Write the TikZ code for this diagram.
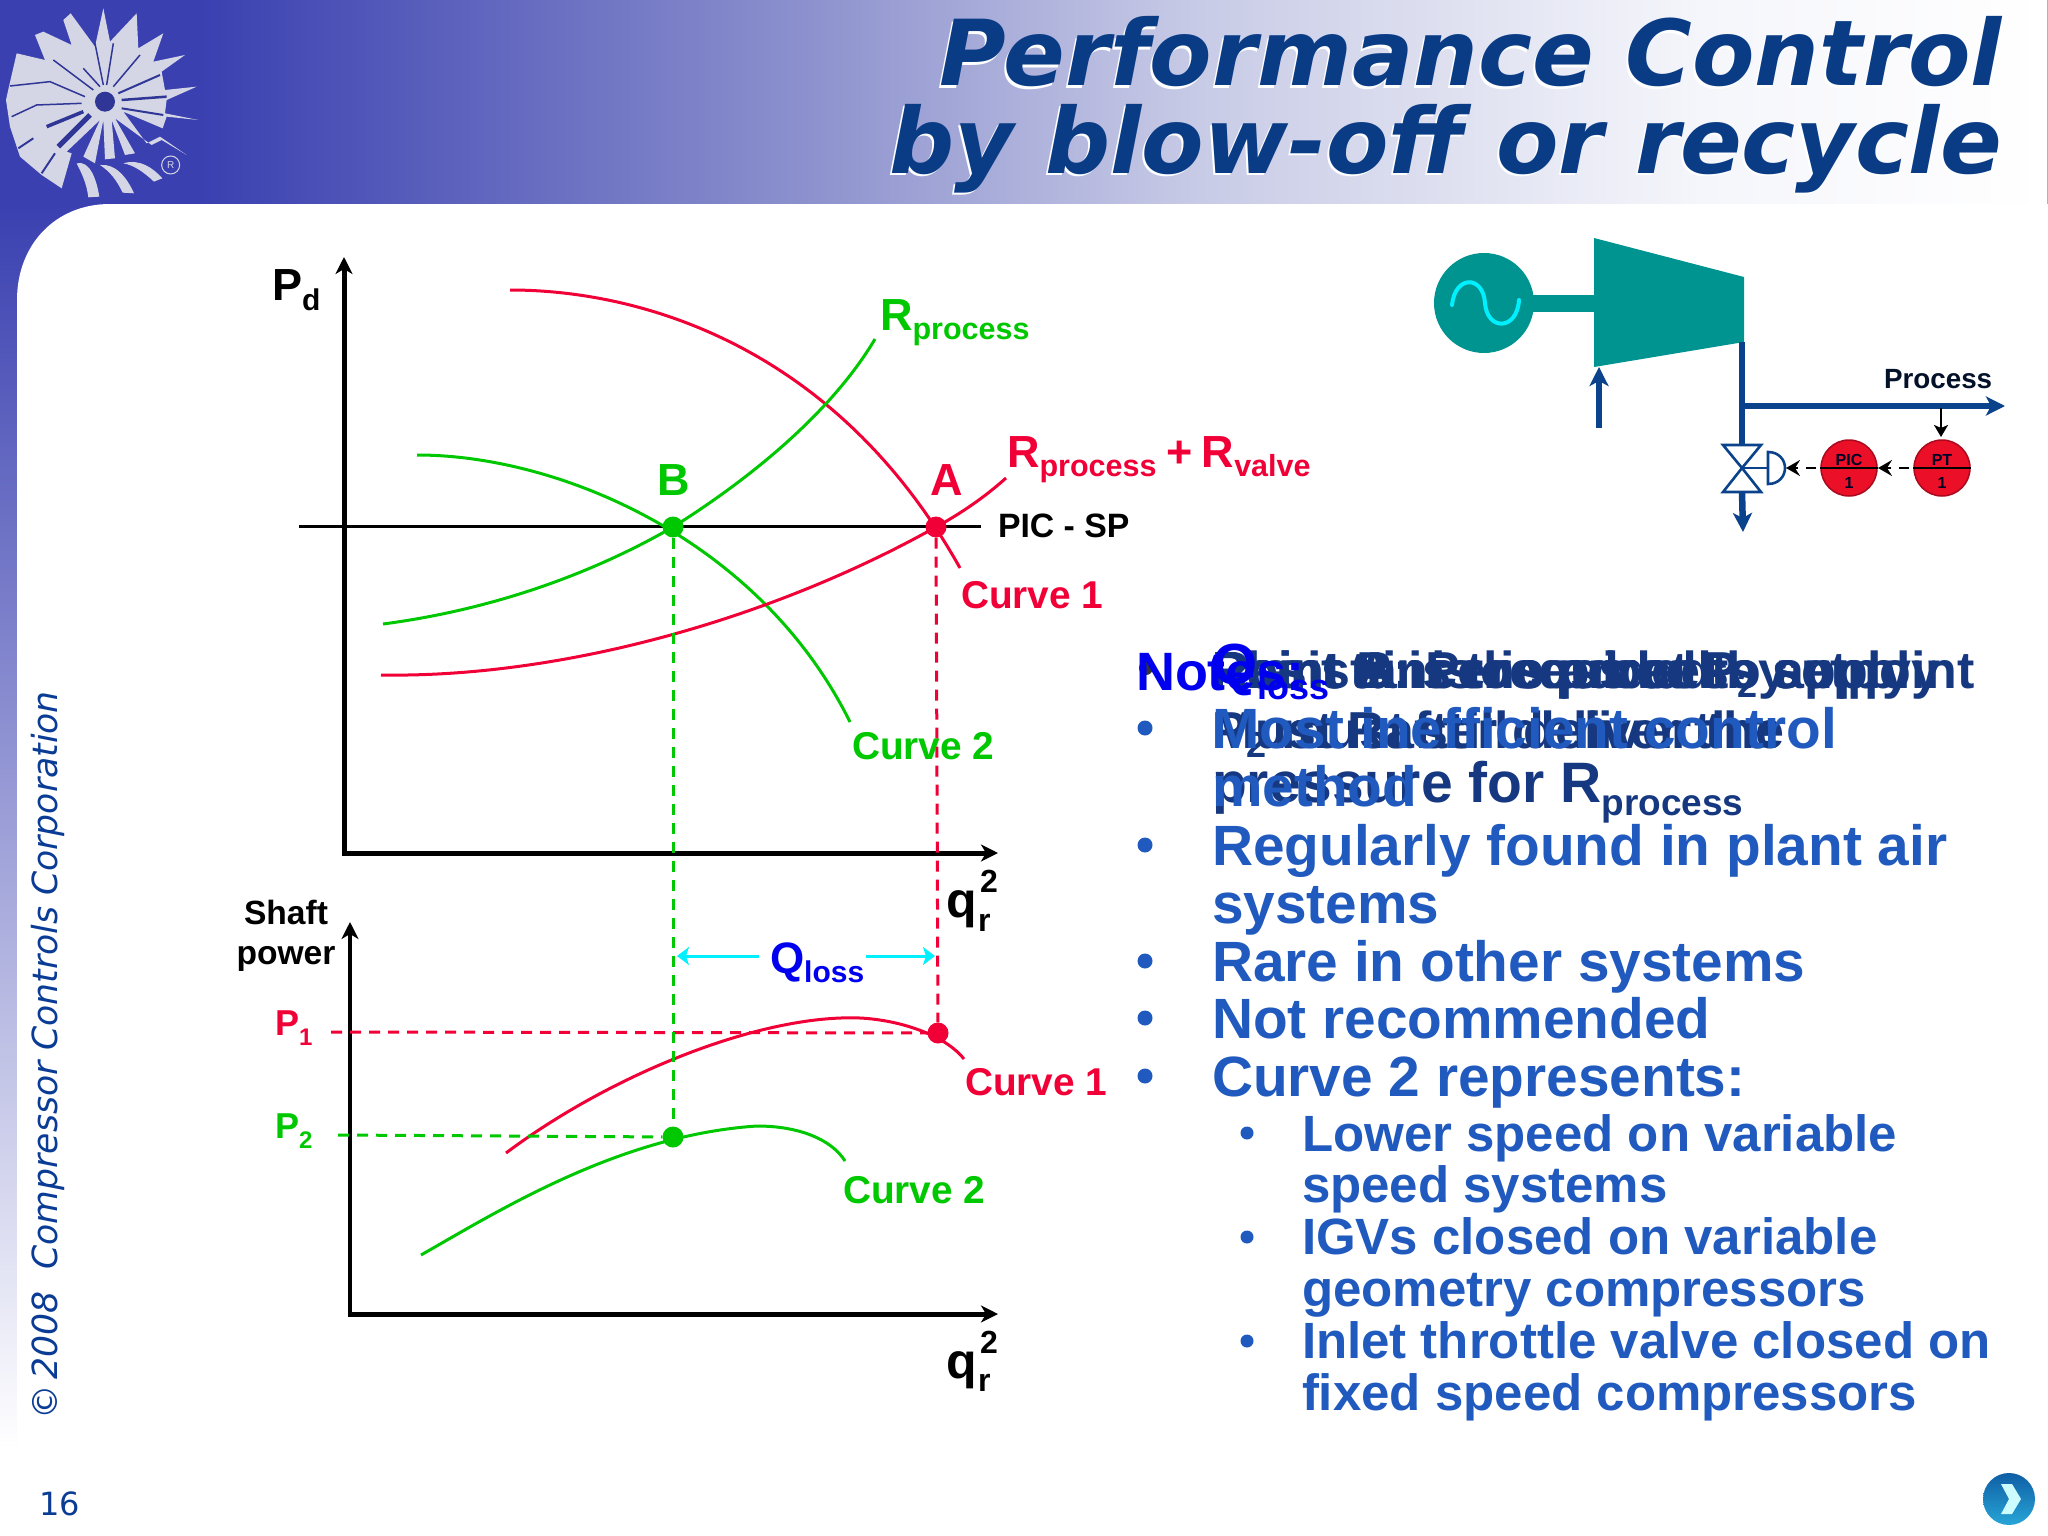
\documentclass[tikz,border=0pt]{standalone}
\usepackage{fontspec}
\setmainfont{Liberation Sans}
\newfontfamily\vdf{DejaVu Sans}
\usetikzlibrary{arrows.meta}
\newcommand\fs[1]{\fontsize{#1}{#1}\selectfont}
\newcommand\sbx[2]{\raisebox{-#1pt}{#2}}
\definecolor{hdrA}{RGB}{58,64,176}
\definecolor{hdrB}{RGB}{138,143,205}
\definecolor{hdrC}{RGB}{200,203,230}
\definecolor{hdrD}{RGB}{245,246,251}
\definecolor{navyT}{RGB}{10,60,134}
\definecolor{copyB}{RGB}{10,60,150}
\definecolor{rd}{RGB}{240,0,55}
\definecolor{gn}{RGB}{0,200,0}
\definecolor{tealC}{RGB}{0,148,144}
\definecolor{pipeC}{RGB}{10,66,140}
\definecolor{txtB}{RGB}{33,90,190}
\definecolor{txtD}{RGB}{21,56,128}
\definecolor{noteB}{RGB}{0,0,238}
\definecolor{logoL}{RGB}{212,214,230}
\definecolor{logoD}{RGB}{48,54,150}
\definecolor{cyanB}{RGB}{0,240,255}
\definecolor{instR}{RGB}{235,15,40}
\definecolor{instD}{RGB}{170,10,30}
\definecolor{btnA}{RGB}{40,165,215}
\definecolor{btnB}{RGB}{15,95,165}
\tikzset{
  lbl/.style={inner sep=0pt,outer sep=0pt,anchor=base west,font=\bfseries},
  body/.style={lbl,text=txtB,font=\bfseries\fs{56.8}},
  subbody/.style={lbl,text=txtB,font=\bfseries\fs{51}},
  dark/.style={lbl,text=txtD,font=\bfseries\fs{52}},
  axis/.style={line width=5pt,-{Stealth[length=17pt,width=17pt,inset=5pt]}},
  thincurve/.style={line width=3pt},
  redline/.style={thincurve,draw=rd},
  greenline/.style={thincurve,draw=gn},
  dashr/.style={draw=rd,line width=3pt,dash pattern=on 11pt off 8pt},
  dashg/.style={draw=gn,line width=3pt,dash pattern=on 11pt off 8pt},
  dot/.style={circle,inner sep=0pt,minimum size=21pt},
  pipe/.style={draw=pipeC,line width=6.5pt},
  pipetip/.style={-{Stealth[length=19pt,width=19pt,inset=5pt]}},
  bul/.style={circle,fill=txtB,inner sep=0pt,minimum size=15pt},
  sbul/.style={circle,fill=txtB,inner sep=0pt,minimum size=13pt},
  inst/.style={circle,fill=instR,draw=instD,line width=1.5pt,inner sep=0pt,minimum size=56pt},
  insttxt/.style={inner sep=0pt,anchor=base,font=\bfseries\fs{16},text=black!85!blue},
  ctrl/.style={draw=black,line width=2.5pt,dash pattern=on 10pt off 8pt,-{Stealth[length=14pt,width=16pt,inset=5pt]}},
  cyanar/.style={draw=cyanB,line width=3pt,-{Stealth[length=12pt,width=18pt,inset=3pt]}},
  titleT/.style={inner sep=0pt,anchor=base east,font=\vdf\bfseries\itshape\fs{91}}
}
\begin{document}
\begin{tikzpicture}[x=1pt,y=-1pt]
\useasboundingbox (0,0) rectangle (2048,1536);
\fill[white] (0,0) rectangle (2048,1536);
% header band
\fill[hdrA] (0,0) rectangle (200,204);
\shade[left color=hdrA,right color=hdrB] (200,0) rectangle (790,204);
\shade[left color=hdrB,right color=hdrC] (790,0) rectangle (1200,204);
\shade[left color=hdrC,right color=hdrD] (1200,0) rectangle (1700,204);
\shade[left color=hdrD,right color=white] (1700,0) rectangle (2048,204);
\shade[top color=hdrA,bottom color=white] (0,204) rectangle (120,1450);
\fill[white] (110,204) -- (2048,204) -- (2048,1536) -- (17,1536) -- (17,300) .. controls (17,245) and (55,204) .. (110,204) -- cycle;
\draw[black!30,line width=1pt] (2047,0) -- (2047,204);
% logo
\begin{scope}[x=0.3333pt,y=-0.3333pt]
\fill[logoL] (18,300)--(28,255)--(50,160)--(135,180)--(105,105)--(130,95)--(215,135)--(190,60)--(212,40)--(285,140)--(310,25)--(330,125)--(410,40)--(415,145)--(490,100)--(460,185)--(555,165)--(485,215)--(495,270)--(590,260)--(500,300)--(495,340)--(595,360)--(500,350)--(488,385)--(370,335)--(440,430)--(480,410)--(560,465)--(485,420)--(455,435)--(345,355)--(405,460)--(375,465)--(335,360)--(345,475)--(315,478)--(310,360)--(285,490)--(250,470)--(300,360)--(200,455)--(215,460)--(185,565)--(125,525)--(60,470)--(30,380)--cycle;
\fill[logoL] (230,490) .. controls (270,480) and (290,540) .. (298,590) -- (265,592) .. controls (260,550) and (245,520) .. (230,490) -- cycle;
\fill[logoL] (300,495) .. controls (345,490) and (380,530) .. (402,580) -- (368,578) .. controls (350,540) and (330,515) .. (300,495) -- cycle;
\fill[logoL] (370,490) .. controls (420,475) and (460,505) .. (487,535) -- (462,545) .. controls (430,515) and (400,495) .. (370,490) -- cycle;
\draw[logoD,line width=1.5pt] (30,258) -- (150,245) -- (255,290);
\draw[logoD,line width=1.5pt] (35,350) -- (110,315) -- (245,310);
\draw[logoD,line width=3.5pt] (140,380) -- (250,335);
\draw[logoD,line width=5pt] (175,440) -- (270,345);
\draw[logoD,line width=2pt] (55,445) -- (100,415);
\draw[logoD,line width=2pt] (125,520) -- (165,460);
\draw[logoD,line width=1.5pt] (160,180) -- (280,270);
\draw[logoD,line width=1.5pt] (250,205) -- (300,260);
\draw[logoD,line width=1.5pt] (285,130) -- (310,255);
\draw[logoD,line width=1.5pt] (340,130) -- (320,255);
\draw[logoD,line width=1.5pt] (420,165) -- (340,260);
\draw[logoD,line width=2pt] (480,225) -- (355,280);
\draw[logoD,line width=2.5pt] (500,290) -- (365,300);
\draw[logoD,line width=2pt] (490,345) -- (365,325);
\fill[logoL] (315,305) circle [radius=45];
\fill[logoD] (315,305) circle [radius=30];
\draw[logoL,line width=1pt] (512,495) circle [radius=27];
\node[inner sep=0pt,text=logoL,font=\fs{10}] (logoR) at (512,495) {R};
\end{scope}
% title
\node[titleT,text=white] (tshadA) at (2000,88.5) {Performance Control};
\node[titleT,text=white] (tshadB) at (2000,175.5) {by blow-of{}f or recycle};
\node[titleT,text=navyT] (t1) at (2002,86) {Performance Control};
\node[titleT,text=navyT] (t2) at (2002,173) {by blow-of{}f or recycle};
% side text
\node[inner sep=0pt,rotate=90,anchor=base west,text=copyB,font=\vdf\itshape\fs{34.6}] (copyr) at (57,1420) {©\,2008\ \ Compressor Controls Corporation};
\node[lbl,text=copyB,font=\vdf\fs{32}] (pg) at (39,1515) {16};
% next button
\shade[top color=btnB,bottom color=btnA] (2009,1499) circle [radius=26];
\fill[white!80!cyanB] (2001,1484) -- (2012,1484) -- (2021,1499) -- (2012,1514) -- (2001,1514) -- (2009,1499) -- cycle;
% === upper plot ===
\coordinate (o1) at (344,853);
\coordinate (y1) at (344,257);
\coordinate (x1) at (998,853);
\draw[axis] (o1) ++(0,2.5) -- (y1);
\draw[axis] (o1) ++(-2.5,0) -- (x1);
\coordinate (spL) at (299,526);
\coordinate (spR) at (981,526);
\draw[black,line width=3pt] (spL) -- (spR);
\draw[redline] (510,290) .. controls (640,290) and (835,345) .. (960,568);
\draw[greenline] (417,455) .. controls (560,455) and (760,540) .. (850,722);
\draw[greenline] (383,624) .. controls (490,610) and (590,575) .. (673,527) .. controls (745,482) and (830,415) .. (875,339);
\draw[redline] (381,675) .. controls (560,678) and (770,620) .. (936,527) .. controls (960,514) and (985,497) .. (1006,478);
\node[dot,fill=gn] (B) at (673,527) {};
\node[dot,fill=rd] (A) at (936,527) {};
% === lower plot ===
\coordinate (o2) at (350,1314);
\coordinate (y2) at (350,922);
\coordinate (x2) at (998,1314);
\draw[axis,line width=3.8pt] (o2) ++(0,2.5) -- (y2);
\draw[axis] (o2) ++(-1.9,0) -- (x2);
\draw[redline] (506,1153) .. controls (610,1075) and (760,1014) .. (860,1018) .. controls (900,1020) and (945,1035) .. (964,1059);
\draw[greenline] (421,1255) .. controls (500,1210) and (620,1135) .. (757,1126) .. controls (800,1126) and (832,1140) .. (845,1161);
\node[dot,fill=rd] (P1d) at (938,1033) {};
\node[dot,fill=gn] (P2d) at (673,1137) {};
\coordinate (p1L) at (331,1032);
\coordinate (p2L) at (338,1135);
\draw[dashr] (p1L) -- (P1d);
\draw[dashg] (p2L) -- (P2d);
\draw[dashg] (B) -- (P2d);
\draw[dashr] (A) -- (P1d);
% Qloss
\coordinate (qA1) at (759,956); \coordinate (qA2) at (677,956);
\coordinate (qB1) at (866,956); \coordinate (qB2) at (935,956);
\draw[cyanar] (qA1) -- (qA2);
\draw[cyanar] (qB1) -- (qB2);
\node[lbl,text=noteB] (qloss) at (770,973) {\fs{44}Q\sbx{9}{\fs{30}loss}};
% labels
\node[lbl] (pd) at (272,300) {\fs{45}P\sbx{10}{\fs{30}d}};
\node[lbl,anchor=base,text=gn] (Bl) at (674,495) {\fs{45}B};
\node[lbl,anchor=base,text=rd] (Al) at (947,495) {\fs{45}A};
\node[lbl,text=gn] (rp) at (880,330) {\fs{45}R\sbx{9}{\fs{30.5}process}};
\node[lbl,text=rd] (rv) at (1007,467) {\fs{45}R\sbx{9}{\fs{30.5}process}\hspace{10pt}+\hspace{9pt}R\sbx{9}{\fs{30.5}valve}};
\node[lbl,font=\bfseries\fs{33.8}] (pic) at (998,537) {PIC - SP};
\node[lbl,text=rd,font=\bfseries\fs{38.8}] (c1a) at (961,608) {Curve 1};
\node[lbl,text=gn,font=\bfseries\fs{38.8}] (c2a) at (852,759) {Curve 2};
\node[lbl,text=rd,font=\bfseries\fs{38.8}] (c1b) at (965,1095) {Curve 1};
\node[lbl,text=gn,font=\bfseries\fs{38.8}] (c2b) at (843,1203) {Curve 2};
\node[lbl,anchor=base,font=\bfseries\fs{33.6}] (sh1) at (286,924) {Shaft};
\node[lbl,anchor=base,font=\bfseries\fs{33.6}] (sh2) at (286,964) {power};
\node[lbl,text=rd] (p1l) at (275,1035) {\fs{36}P\sbx{10}{\fs{24}1}};
\node[lbl,text=gn] (p2l) at (275,1138) {\fs{36}P\sbx{10}{\fs{24}2}};
\node[lbl,font=\bfseries\fs{50}] (q1) at (946,917) {q};
\node[lbl,font=\bfseries\fs{32}] (q1r) at (978,931) {r};
\node[lbl,font=\bfseries\fs{32}] (q12) at (980,892) {2};
\node[lbl,font=\bfseries\fs{50}] (q2) at (946,1378) {q};
\node[lbl,font=\bfseries\fs{32}] (q2r) at (978,1391) {r};
\node[lbl,font=\bfseries\fs{32}] (q22) at (980,1353) {2};
% === compressor schematic ===
\coordinate (inl) at (1599,428);
\coordinate (inlT) at (1599,367);
\draw[pipe,pipetip] (inl) -- (inlT);
\fill[tealC] (1530,295) rectangle (1596,312);
\fill[tealC] (1594,238) -- (1744,277) -- (1744,342) -- (1594,367) -- cycle;
\node[circle,fill=tealC,inner sep=0pt,minimum size=100pt] (motor) at (1484,303) {};
\draw[cyanB,line width=4pt,line cap=round] (1452,305) .. controls (1455,275) and (1483,275) .. (1485,303) .. controls (1487,331) and (1517,331) .. (1519,300);
\coordinate (j0) at (1742,342);
\coordinate (j1) at (1742,406);
\coordinate (vT) at (1742,445);
\coordinate (pE) at (2005,406);
\draw[pipe] (j0) -- (vT);
\draw[pipe,pipetip] (j1) ++(-3,0) -- (pE);
\coordinate (vC) at (1742,468);
\coordinate (vB) at (1742,492);
\coordinate (dT) at (1743,532);
\draw[pipe,pipetip] (vB) -- (dT);
\draw[pipeC,fill=white,line width=2.6pt,line join=miter] (1723,445) -- (1761,445) -- (vC) -- cycle;
\draw[pipeC,fill=white,line width=2.6pt] (1723,492) -- (1761,492) -- (vC) -- cycle;
\coordinate (acS) at (1768,468);
\draw[pipeC,line width=2.6pt] (vC) -- (acS);
\draw[pipeC,fill=white,line width=2.6pt] (1768,452) .. controls (1779,452) and (1785,460) .. (1785,468) .. controls (1785,476) and (1779,484) .. (1768,484) -- cycle;
\node[inst] (PIC) at (1849,468) {};
\node[inst] (PT) at (1942,468) {};
\draw[black,line width=2.5pt] (PIC.west) -- (PIC.east);
\draw[black,line width=2.5pt] (PT.west) -- (PT.east);
\node[insttxt] (PICa) at (1849,465) {PIC};
\node[insttxt] (PICb) at (1849,488) {1};
\node[insttxt] (PTa) at (1942,465) {PT};
\node[insttxt] (PTb) at (1942,488) {1};
\coordinate (acE) at (1786,468);
\draw[ctrl] (PIC.west) ++(-4,0) -- (acE);
\coordinate (picE) at (1878,468);
\draw[ctrl] (PT.west) ++(-4,0) -- (picE);
\coordinate (tap) at (1941,408);
\coordinate (tapE) at (1941,437);
\draw[black,line width=2.5pt,-{Stealth[length=12pt,width=14pt,inset=3pt]}] (tap) -- (tapE);
\node[lbl,font=\bfseries\fs{27.8},text=black!70!navyT] (proc) at (1884,388) {Process};
% === overlapped text ===
\node[dark] (d1) at (1212,688) {Point A is the process setpoint};
\node[dark] (d2) at (1212,688) {Point B: Process at P\sbx{9}{\fs{36}2} supply};
\node[dark] (d5) at (1212,688) {Resistance is added by};
\node[dark] (d6) at (1212,688) {Plant air is required to apply};
\node[dark] (d3) at (1212,748) {P\sbx{9}{\fs{36}2} must still deliver the};
\node[dark] (d7) at (1212,748) {Must Rafter deliver the};
\node[dark,font=\bfseries\fs{57}] (d4) at (1212,802) {pressure for R\sbx{13}{\fs{37}process}};
\node[body] (m1) at (1212,748) {Most inefficient control};
\node[body] (m2) at (1212,806) {method};
\node[circle,fill=black!80,inner sep=0pt,minimum size=14pt] (nb) at (1146,668) {};
\node[lbl,text=noteB,font=\bfseries\fs{54}] (notes) at (1136,690) {Notes:};
\node[lbl,text=noteB] (qn) at (1212,684) {\fs{58}Q\sbx{15}{\fs{36}loss}};
\node[bul] (b1) at (1145,728) {};
\node[bul] (b2) at (1145,845) {};
\node[bul] (b3) at (1145,961) {};
\node[bul] (b4) at (1145,1018) {};
\node[bul] (b5) at (1145,1076) {};
\node[body] (l1) at (1212,865) {Regularly found in plant air};
\node[body] (l2) at (1212,923) {systems};
\node[body] (l3) at (1212,981) {Rare in other systems};
\node[body] (l4) at (1212,1038) {Not recommended};
\node[body] (l5) at (1212,1096) {Curve 2 represents:};
\node[sbul] (s1) at (1247,1133) {};
\node[sbul] (s2) at (1247,1237) {};
\node[sbul] (s3) at (1247,1341) {};
\node[subbody] (u1) at (1302,1151) {Lower speed on variable};
\node[subbody] (u2) at (1302,1202) {speed systems};
\node[subbody] (u3) at (1302,1254) {IGVs closed on variable};
\node[subbody] (u4) at (1302,1306) {geometry compressors};
\node[subbody] (u5) at (1302,1358) {Inlet throttle valve closed on};
\node[subbody] (u6) at (1302,1410) {fixed speed compressors};
\end{tikzpicture}
\end{document}
